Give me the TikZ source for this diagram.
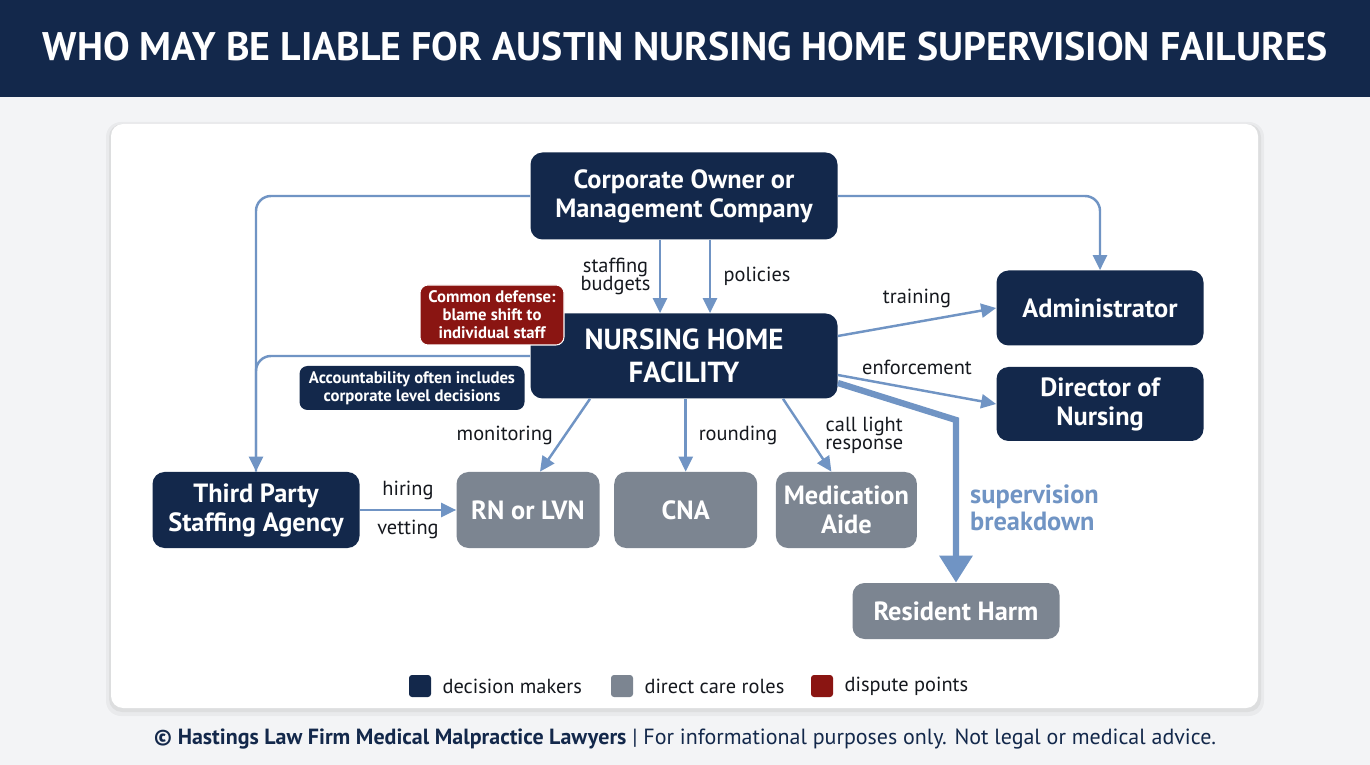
\documentclass[tikz,border=0pt]{standalone}
\usepackage{fontspec}
\setmainfont{PT Sans}
\usetikzlibrary{positioning, arrows.meta}
\definecolor{navy}{HTML}{13284B}
\definecolor{carebox}{HTML}{7C8591}
\definecolor{disputered}{HTML}{8A1512}
\definecolor{flowblue}{HTML}{7094C4}
\definecolor{pagebg}{HTML}{F3F4F6}
\definecolor{inktext}{HTML}{15181E}
\tikzset{
  decider/.style={fill=navy, text=white, rounded corners=2.4mm, align=center, inner sep=0pt,
    font=\fontsize{15}{16.5}\selectfont\bfseries},
  carer/.style={decider, fill=carebox},
  note/.style={rounded corners=1.6mm, align=center, text=white, inner sep=0pt,
    font=\fontsize{9.5}{10.2}\selectfont\bfseries},
  flow/.style={draw=flowblue, line width=1.4pt, -{Triangle[length=3mm, width=2.8mm]}},
  lbl/.style={font=\fontsize{11.6}{12.4}\selectfont, text=inktext, align=center},
  swatch/.style={minimum size=4.4mm, inner sep=0pt, rounded corners=0.6mm},
  >=Stealth,
}

\begin{document}
\begin{tikzpicture}[x=0.2mm, y=-0.2mm]
    \useasboundingbox (0,0) rectangle (1370,765);
    \fill[pagebg] (0,0) rectangle (1370,765);
    \fill[navy] (0,0) rectangle (1370,97);
    \node[text=white, font=\fontsize{22.7}{25}\selectfont\bfseries] (title) at (685,47)
      {WHO MAY BE LIABLE FOR AUSTIN NURSING HOME SUPERVISION FAILURES};

    % card with soft shadow
    \fill[black, opacity=0.04, rounded corners=3mm] (106,122) rectangle (1264,716);
    \fill[black, opacity=0.05, rounded corners=2.6mm] (109,124) rectangle (1261,712);
    \fill[white, rounded corners=2.4mm] (111,124) rectangle (1258,708);

    % decision makers
    \node[decider, minimum width=61.4mm, minimum height=17.4mm] (corp) at (684,196)
      {Corporate Owner or\\Management Company};
    \node[decider, minimum width=61.4mm, minimum height=17mm,
      font=\fontsize{16.5}{19}\selectfont\bfseries] (facility) at (684,356)
      {NURSING HOME\\FACILITY};
    \node[decider, minimum width=41.4mm, minimum height=15mm] (admin) at (1100,308) {Administrator};
    \node[decider, minimum width=41.4mm, minimum height=14.8mm] (don) at (1100,404) {Director of\\Nursing};
    \node[decider, minimum width=41.4mm, minimum height=15.2mm] (agency) at (256,510)
      {Third Party\\Staffing Agency};

    % direct care roles
    \node[carer, minimum width=28.6mm, minimum height=15.2mm] (rn) at (528,510) {RN or LVN};
    \node[carer, minimum width=28.6mm, minimum height=15.2mm, right=2.8mm of rn] (cna) {CNA};
    \node[carer, minimum width=28.2mm, minimum height=15.2mm, right=3.6mm of cna] (aide) {Medication\\Aide};
    \node[carer, minimum width=41.4mm, minimum height=11.2mm] (harm) at (956,611) {Resident Harm};

    % notes
    \node[note, fill=navy, minimum width=45mm, minimum height=8.8mm] (accnote) at (412,388)
      {Accountability often includes\\corporate level decisions};

    % connectors
    \draw[draw=flowblue, line width=1.4pt, rounded corners=3mm] (facility.west) -| (agency.north);
    \draw[flow, rounded corners=3mm] (corp.west) -| (agency.north);
    \draw[flow, rounded corners=3mm] (corp.east) -| (admin.north);
    \draw[flow] ([xshift=-4.8mm]corp.south) -- ([xshift=-4.8mm]facility.north)
      node[lbl, midway, left=0.5mm] (lblbudget) {staffing\\[-2pt]budgets};
    \draw[flow] ([xshift=5.2mm]corp.south) -- ([xshift=5.2mm]facility.north)
      node[lbl, midway, right=1.3mm] (lblpolicy) {policies};
    \draw[flow] ([yshift=4mm]facility.east) -- (admin.west)
      node[lbl, midway, above=1.4mm] (lbltrain) {training};
    \draw[flow] ([yshift=-3.8mm]facility.east) -- (don.west)
      node[lbl, midway, above=1.6mm] (lblenforce) {enforcement};
    \coordinate (bend) at (956,420);
    \draw[flow, line width=3.6pt, -{Triangle[length=5.4mm, width=6.4mm]}]
      ([yshift=-5.4mm]facility.east) -- (bend) -- (harm.north);
    \node[anchor=west, text=flowblue, align=left, font=\fontsize{15}{15.5}\selectfont\bfseries]
      (lblbreak) at (964,508) {supervision\\breakdown};
    \draw[flow] ([xshift=-18.8mm]facility.south) -- ([xshift=2.4mm]rn.north)
      node[lbl, midway, left=1mm] (lblmonitor) {monitoring};
    \draw[flow] (facility.south -| cna.north) -- (cna.north)
      node[lbl, midway, right=1.2mm] (lblround) {rounding};
    \draw[flow] ([xshift=19.8mm]facility.south) -- ([xshift=-3mm]aide.north)
      node[lbl, midway, right=2.2mm] (lblcall) {call light\\[-2pt]response};
    \draw[flow] (agency.east) -- (rn.west)
      node[lbl, midway, above=0.6mm] (lblhire) {hiring}
      node[lbl, midway, below=0.6mm] (lblvet) {vetting};

    % dispute point on top of the facility box
    \node[note, fill=disputered, draw=white, line width=0.6pt, minimum width=28.8mm, minimum height=12mm]
      (defense) at (492,315) {Common defense:\\blame shift to\\individual staff};

    % legend
    \node[swatch, fill=navy] (keydecide) at (420,686) {};
    \node[lbl, anchor=west, right=1mm of keydecide] (txtdecide) {decision makers};
    \node[swatch, fill=carebox] (keycare) at (622,686) {};
    \node[lbl, anchor=west, right=1mm of keycare] (txtcare) {direct care roles};
    \node[swatch, fill=disputered] (keydispute) at (822,686) {};
    \node[lbl, anchor=west, right=1mm of keydispute] (txtdispute) {dispute points};

    % footer
    \node[text=navy, font=\fontsize{12.5}{14}\selectfont] (footer) at (685,739)
      {\textbf{© Hastings Law Firm Medical Malpractice Lawyers} | For informational purposes only. Not legal or medical advice.};
\end{tikzpicture}
\end{document}
